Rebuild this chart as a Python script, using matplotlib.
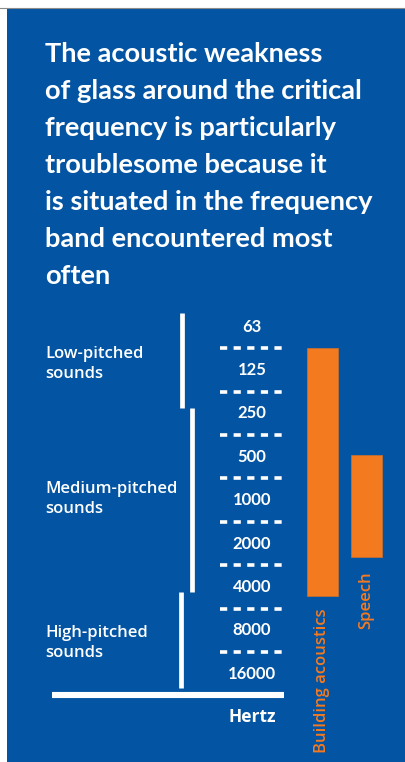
import numpy as np
import matplotlib.pyplot as plt

# colours
BLUE = '#0354a2'
ORANGE = '#f47a20'

# data
bands = [63, 125, 250, 500, 1000, 2000, 4000, 8000, 16000]
band_labels = ['63', '125', '250', '500', '1000', '2000', '4000', '8000', '16000']
groups = ['Low-pitched\nsounds', 'Medium-pitched\nsounds', 'High-pitched\nsounds']
group_low = [50, 230, 4350]       # Hz, top of each bracket
group_high = [230, 4350, 20000]   # Hz, bottom of each bracket
ranges = ['Building acoustics', 'Speech']
range_low = [88, 490]
range_high = [4600, 2470]

title_lines = ['The acoustic weakness',
               'of glass around the critical',
               'frequency is particularly',
               'troublesome because it',
               'is situated in the frequency',
               'band encountered most',
               'often']

plt.rcParams['lines.scale_dashes'] = False
W, H = 406, 762
fig = plt.figure(figsize=(W / 100, H / 100), dpi=100, facecolor='white')

# blue panel with a thin grey rule on top
fig.patches.append(plt.Rectangle((7 / W, 0), 1, 1 - 8 / H, transform=fig.transFigure,
                                 facecolor=BLUE, edgecolor='none', zorder=-1))
fig.add_artist(plt.Line2D([0, 1], [1 - 7.5 / H] * 2, color='#8a8a8a', lw=0.8))

def fx(px):
    return px / W

def fy(py):
    return 1 - py / H

# title
for k, line in enumerate(title_lines):
    fig.text(fx(45), fy(62 + 37 * k), line, color='white', fontsize=19.6,
             fontweight='bold', family='Lato', va='baseline', ha='left')

# axes: x in pixels, y log2 frequency so every octave band gets equal height
ax = fig.add_axes([0, 0, 1, 1])
ax.patch.set_alpha(0)
ax.set_xlim(0, W)
ax.set_yscale('log', base=2)
step = 43.4
ax.set_ylim(63 * 2 ** ((H - 327) / step), 63 * 2 ** (-327 / step))
ax.axis('off')

# band labels and dashed separators
for f, lab in zip(bands, band_labels):
    ax.text(252, f, lab, color='white', fontsize=12, fontweight='bold',
            family='Lato', ha='center', va='center')
edges = np.sqrt(np.array(bands[:-1]) * np.array(bands[1:]))
ax.hlines(edges, 220, 284, color='white', lw=2.6,
          linestyles=[(0, (5.2, 4.6))] * len(edges))

# baseline under the scale
ax.hlines(np.sqrt(bands[-1] * bands[-1] * 2), 52, 284, color='white', lw=4.4)

# group brackets
bracket_x = [182, 192.5, 181.5]
for x, lo, hi in zip(bracket_x, group_low, group_high):
    ax.vlines(x, lo, hi, color='white', lw=3.4)

# baseline of the second line of each group label
group_y = [378, 513, 657]
for g, py in zip(groups, group_y):
    fig.text(fx(45), fy(py), g, color='white', fontsize=12, fontweight='semibold',
             family='Open Sans', va='baseline', ha='left', linespacing=1.3)

# frequency ranges
bars = ax.bar([322.2, 366.7], np.array(range_high) - np.array(range_low),
              bottom=range_low, width=31, color=ORANGE, edgecolor='#c9702c', lw=0.5)

fig.text(fx(322), fy(753), ranges[0], rotation=90, color=ORANGE, fontsize=12,
         fontweight='semibold', family='Open Sans', ha='center', va='bottom')
fig.text(fx(366), fy(629), ranges[1], rotation=90, color=ORANGE, fontsize=12,
         fontweight='semibold', family='Open Sans', ha='center', va='bottom')

fig.text(fx(252), fy(717), 'Hertz', color='white', fontsize=12.5, fontweight='bold',
         family='Open Sans', ha='center', va='center')

fig.savefig('out.png', dpi=100, facecolor='white')
